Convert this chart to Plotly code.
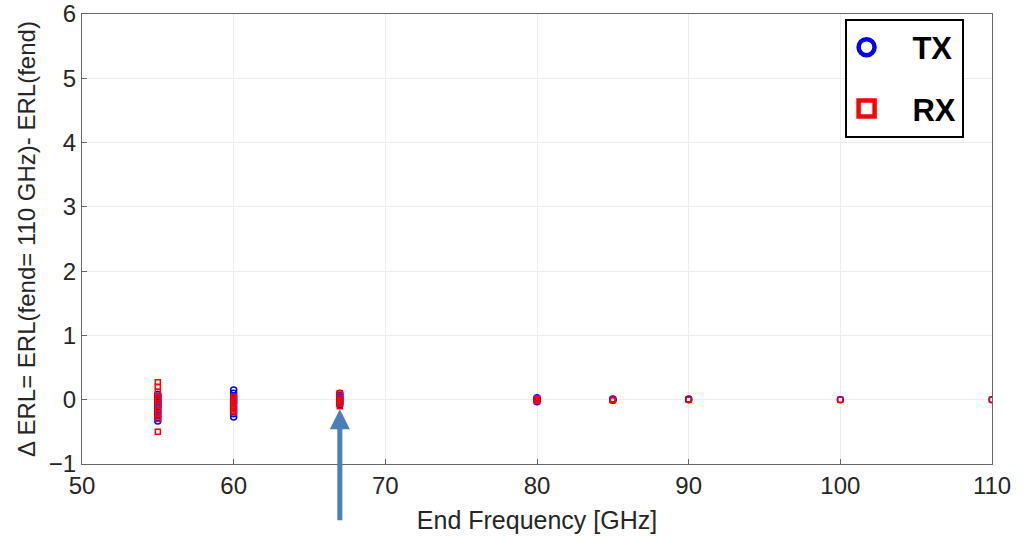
import plotly.graph_objects as go

# End frequencies [GHz] and Delta ERL values
freq_tx = {
    55: [0.08, 0.05, 0.02, -0.01, -0.04, -0.07, -0.1, -0.13, -0.17, -0.2, -0.24, -0.28, -0.33],
    60: [0.15, 0.1, 0.06, 0.03, 0.0, -0.03, -0.06, -0.1, -0.14, -0.18, -0.22, -0.27],
    67: [0.1, 0.07, 0.04, 0.01, -0.02, -0.05, -0.08],
    80: [0.03, 0.01, -0.01, -0.03],
    85: [0.01, 0.0, -0.01],
    90: [0.01, 0.0],
    100: [0.0],
    110: [0.0],
}
freq_rx = {
    55: [0.27, 0.2, 0.12, 0.06, 0.02, -0.02, -0.05, -0.09, -0.13, -0.17, -0.21, -0.26, -0.3, -0.5],
    60: [0.05, 0.02, 0.0, -0.03, -0.06, -0.09, -0.12, -0.15, -0.18, -0.2],
    67: [0.1, 0.06, 0.03, 0.0, -0.03, -0.06, -0.1],
    80: [0.02, 0.0, -0.02],
    85: [0.0, -0.01],
    90: [0.0],
    100: [0.0],
    110: [0.0],
}
series_names = ["TX", "RX"]
x_ticks = [50, 60, 70, 80, 90, 100, 110]
y_ticks = [-1, 0, 1, 2, 3, 4, 5, 6]
arrow_freq = 67

tx_x = [f for f, vals in freq_tx.items() for _ in vals]
tx_y = [v for vals in freq_tx.values() for v in vals]
rx_x = [f for f, vals in freq_rx.items() for _ in vals]
rx_y = [v for vals in freq_rx.values() for v in vals]

PAD = "\u00a0\u00a0\u00a0"

fig = go.Figure()
fig.add_trace(go.Scatter(x=tx_x, y=tx_y, mode="markers", showlegend=False,
                         marker=dict(symbol="circle-open", size=6, color="blue",
                                     line=dict(width=1.5, color="blue"))))
fig.add_trace(go.Scatter(x=rx_x, y=rx_y, mode="markers", showlegend=False,
                         marker=dict(symbol="square-open", size=5, color="red",
                                     line=dict(width=1.5, color="red"))))
# legend entries
fig.add_trace(go.Scatter(x=[None], y=[None], mode="markers", name=PAD + series_names[0], legendgroup="a",
                         marker=dict(symbol="circle-open", size=20, color="blue",
                                     line=dict(width=4.5, color="blue"))))
fig.add_trace(go.Scatter(x=[None], y=[None], mode="markers", name=PAD + series_names[1], legendgroup="b",
                         marker=dict(symbol="square-open", size=20, color="red",
                                     line=dict(width=4.5, color="red"))))

FONT = "Liberation Sans, Arial"
axis_common = dict(showgrid=True, gridcolor="#ececec", gridwidth=1, zeroline=False,
                   showline=True, linecolor="#666666", linewidth=1, mirror=True,
                   ticks="inside", ticklen=5, tickcolor="#666666", automargin=False,
                   tickfont=dict(family=FONT, size=24, color="#262626"))

fig.update_layout(
    width=1030, height=536,
    margin=dict(l=82, r=38, t=14, b=72),
    plot_bgcolor="white", paper_bgcolor="white",
    xaxis=dict(range=[50, 110], tickvals=x_ticks, **axis_common,
               title=dict(text="End Frequency [GHz]", standoff=13,
                          font=dict(family=FONT, size=25, color="#262626"))),
    yaxis=dict(range=[-1, 6], tickvals=y_ticks, **axis_common,
               title=dict(text="Δ ERL= ERL(fend= 110 GHz)- ERL(fend)", standoff=6,
                          font=dict(family=FONT, size=24, color="#262626"))),
    legend=dict(x=0.838, y=0.99, xanchor="left", yanchor="top",
                bordercolor="black", borderwidth=2, bgcolor="white",
                tracegroupgap=18, traceorder="grouped", itemwidth=30,
                font=dict(family=FONT, size=31, color="black", weight="bold")),
)

# arrow pointing at the 67 GHz cluster
fig.add_annotation(x=arrow_freq, y=-0.15, xref="x", yref="y",
                   ax=arrow_freq, ay=-1.9, axref="x", ayref="y",
                   showarrow=True, arrowhead=2, arrowsize=0.8, arrowwidth=5,
                   arrowcolor="#4a7ebb", text="")

fig.write_html("out.html")
